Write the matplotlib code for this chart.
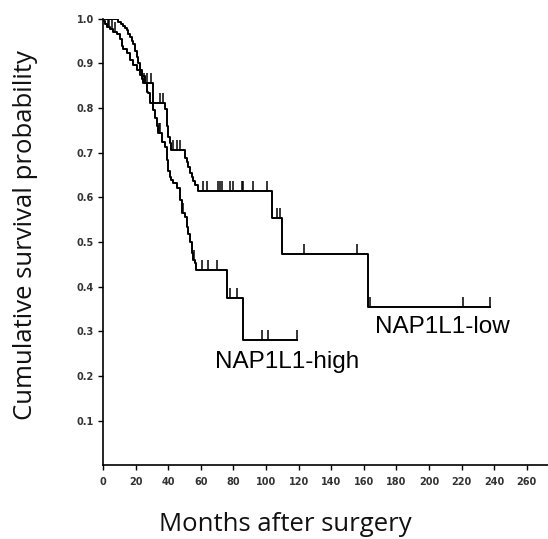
import numpy as np
import matplotlib
matplotlib.use("Agg")
import matplotlib.pyplot as plt

# ---- 数据：Kaplan-Meier 阶梯（月份, 生存率） ----
low_t = [0, 9.2, 11, 12.5, 13.5, 14.5, 15.5, 16.6, 17.6, 18.6, 19.6, 20.7, 21.7, 22.7, 23.7,
         25.8, 30.9, 38, 39, 39.5, 40, 41, 41.5, 50.3, 51.3, 52.3, 53.4, 54.4, 55.4, 56.5,
         58.5, 103.5, 110, 162.8, 237.6]
low_s = [1.0, 0.993, 0.989, 0.985, 0.98, 0.974, 0.967, 0.959, 0.951, 0.944, 0.929, 0.915, 0.9,
         0.886, 0.872, 0.856, 0.811, 0.797, 0.77, 0.759, 0.736, 0.721, 0.706, 0.688, 0.68,
         0.667, 0.654, 0.646, 0.637, 0.627, 0.615, 0.553, 0.473, 0.355, 0.355]
low_cens = [7.4, 8.3, 27, 29.5, 35, 36.6, 43.1, 45.2, 47.2, 61.5, 63.6, 70.7, 71.8, 72.8,
            77.9, 80, 85.1, 86.1, 92.2, 100.4, 107, 108.5, 123.5, 156, 163.5, 220.7, 237.6]

high_t = [0, 0.2, 1.2, 2.3, 4.3, 6.3, 8.4, 10.4, 11.5, 12.5, 14.5, 16.6, 18.6, 20.7, 22.7,
          23.7, 24.7, 26.8, 27.8, 28.8, 30.9, 31.9, 32.9, 34, 36, 38, 39, 40, 41, 42, 43.1,
          45.2, 47.2, 48.3, 50.3, 51.3, 52.3, 53.4, 54.4, 55.4, 56.4, 56.9, 75.9, 85.7, 119.2]
high_s = [1.0, 0.996, 0.989, 0.981, 0.978, 0.97, 0.966, 0.955, 0.94, 0.933, 0.923, 0.908,
          0.897, 0.886, 0.874, 0.865, 0.856, 0.837, 0.833, 0.811, 0.796, 0.777, 0.759, 0.744,
          0.725, 0.714, 0.684, 0.658, 0.646, 0.639, 0.632, 0.62, 0.594, 0.564, 0.557, 0.534,
          0.519, 0.5, 0.475, 0.46, 0.452, 0.437, 0.374, 0.28, 0.28]
high_cens = [2.8, 3.5, 5.3, 7.3, 25.2, 34.5, 35.2, 49, 55.8, 60.5, 64.6, 69.8, 77.9, 82.4,
             97.3, 101.4, 119.2]

x_ticks = list(range(0, 261, 20))
y_ticks = [0.1, 0.2, 0.3, 0.4, 0.5, 0.6, 0.7, 0.8, 0.9, 1.0]


def surv_at(t, s, x):
    # 阶梯函数取值（右连续）
    idx = np.searchsorted(np.asarray(t), np.asarray(x), side='right') - 1
    return np.asarray(s)[idx]


fig = plt.figure(figsize=(5.48, 5.39), dpi=100)
ax = fig.add_axes([0.188, 0.137, 0.812, 0.828])

for t, s, c in [(low_t, low_s, low_cens), (high_t, high_s, high_cens)]:
    ax.step(t, s, where='post', color='black', lw=1.4)
    ax.plot(c, surv_at(t, s, c), linestyle='none', marker=2, markersize=7,
            markeredgewidth=1.1, color='black')

ax.set_xlim(0, 273)
ax.set_ylim(0, 1.0)
ax.set_xticks(x_ticks)
ax.set_yticks(y_ticks)
ax.set_xticklabels([str(v) for v in x_ticks], fontsize=7, fontweight='bold',
                   family='DejaVu Sans', color='#333333')
ax.set_yticklabels([f"{v:.1f}" for v in y_ticks], fontsize=7, fontweight='bold',
                   family='DejaVu Sans', color='#333333')
ax.tick_params(axis='x', length=3.5, width=1, pad=5)
ax.tick_params(axis='y', length=3.5, width=1, pad=3)

for side in ['top', 'right']:
    ax.spines[side].set_visible(False)
for side in ['left', 'bottom']:
    ax.spines[side].set_linewidth(1.2)

ax.set_ylabel('Cumulative survival probability', fontsize=18.5, family='Open Sans',
              color='#111111')
ax.set_xlabel('Months after surgery', fontsize=18.5, family='Open Sans', color='#111111')
ax.yaxis.set_label_coords(-0.146, 0.515)
ax.xaxis.set_label_coords(0.41, -0.105)

ax.text(68.7, 0.231, 'NAP1L1-high', fontsize=17.5, family='Liberation Sans', va='center', ha='left')
ax.text(166.9, 0.309, 'NAP1L1-low', fontsize=17.5, family='Liberation Sans', va='center', ha='left')

fig.savefig('out.png', dpi=100)
